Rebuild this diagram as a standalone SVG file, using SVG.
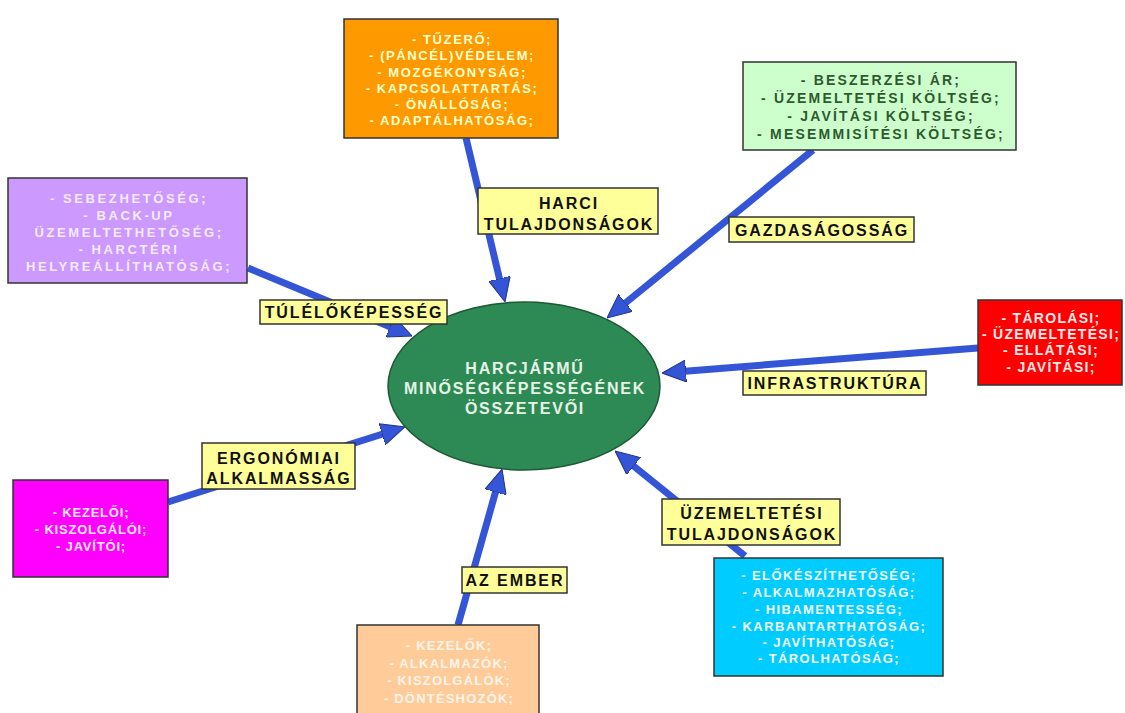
<svg xmlns="http://www.w3.org/2000/svg" width="1125" height="713" viewBox="0 0 1125 713">
  <style>
    .box { stroke: #333; stroke-width: 1.5; }
    .bt { font-family: "Liberation Sans", Arial, sans-serif; font-weight: bold; font-size: 13px; letter-spacing: 1.5px; text-anchor: middle; }
    .lbl rect { fill: #ffff99; stroke: #333; stroke-width: 1.5; }
    .lbl text { font-family: "Liberation Sans", Arial, sans-serif; font-weight: bold; font-size: 16px; letter-spacing: 1.9px; text-anchor: middle; fill: #111; }
    .edge { stroke: #3456d6; stroke-width: 7; fill: none; }
    .ct { font-family: "Liberation Sans", Arial, sans-serif; font-weight: bold; font-size: 16px; letter-spacing: 1.8px; text-anchor: middle; fill: #e6f2e6; }
  </style>
  <defs>
    <marker id="ah" viewBox="0 0 24 22" refX="4" refY="11" markerWidth="24" markerHeight="22" markerUnits="userSpaceOnUse" orient="auto">
      <path d="M0,0 L24,11 L0,22 Z" fill="#3456d6" stroke="#22338a" stroke-width="1"/>
    </marker>
  </defs>
  <rect width="1125" height="713" fill="#ffffff"/>

  <g id="connectors">
    <line class="edge" x1="466" y1="138" x2="500.4" y2="282.5" marker-end="url(#ah)"/>
    <line class="edge" x1="813" y1="150" x2="622.5" y2="305.4" marker-end="url(#ah)"/>
    <line class="edge" x1="248" y1="268" x2="393.6" y2="328.3" marker-end="url(#ah)"/>
    <line class="edge" x1="978" y1="348" x2="681.9" y2="371.4" marker-end="url(#ah)"/>
    <line class="edge" x1="745" y1="556" x2="630.6" y2="463.6" marker-end="url(#ah)"/>
    <line class="edge" x1="168" y1="502" x2="385.9" y2="433" marker-end="url(#ah)"/>
    <line class="edge" x1="458" y1="625" x2="496.6" y2="488.3" marker-end="url(#ah)"/>
  </g>

  <g id="center">
    <ellipse cx="524" cy="386" rx="136" ry="84" fill="#2d8a55" stroke="#1d5a36" stroke-width="1.5"/>
    <text class="ct" x="525" y="374">HARCJÁRMŰ</text>
    <text class="ct" x="525" y="394">MINŐSÉGKÉPESSÉGÉNEK</text>
    <text class="ct" x="525" y="414">ÖSSZETEVŐI</text>
  </g>

  <g id="box-harci">
    <rect class="box" x="344" y="19" width="214" height="119" fill="#ff9900"/>
    <g class="bt" fill="#ffffcc" style="letter-spacing:1.6px">
      <text x="452" y="44">- TŰZERŐ;</text>
      <text x="452" y="60">- (PÁNCÉL)VÉDELEM;</text>
      <text x="452" y="77">- MOZGÉKONYSÁG;</text>
      <text x="452" y="93">- KAPCSOLATTARTÁS;</text>
      <text x="452" y="109">- ÖNÁLLÓSÁG;</text>
      <text x="452" y="125">- ADAPTÁLHATÓSÁG;</text>
    </g>
  </g>

  <g id="box-gazd">
    <rect class="box" x="743" y="62" width="273" height="88" fill="#ccffcc"/>
    <g class="bt" fill="#2f5a2f" style="font-size:14px;letter-spacing:2.2px">
      <text x="881" y="85">- BESZERZÉSI ÁR;</text>
      <text x="881" y="103">- ÜZEMELTETÉSI KÖLTSÉG;</text>
      <text x="881" y="121">- JAVÍTÁSI KÖLTSÉG;</text>
      <text x="881" y="139">- MESEMMISÍTÉSI KÖLTSÉG;</text>
    </g>
  </g>

  <g id="box-tulel">
    <rect class="box" x="8" y="178" width="239" height="105" fill="#cc99ff"/>
    <g class="bt" fill="#f4eaff" style="letter-spacing:2.6px">
      <text x="129" y="203">- SEBEZHETŐSÉG;</text>
      <text x="129" y="220">- BACK-UP</text>
      <text x="129" y="237">ÜZEMELTETHETŐSÉG;</text>
      <text x="129" y="254">- HARCTÉRI</text>
      <text x="129" y="271">HELYREÁLLÍTHATÓSÁG;</text>
    </g>
  </g>

  <g id="box-infra">
    <rect class="box" x="978" y="300" width="144" height="85" fill="#ff0000"/>
    <g class="bt" fill="#ffe8e8" style="font-size:14px;letter-spacing:1.3px">
      <text x="1051" y="323">- TÁROLÁSI;</text>
      <text x="1051" y="339">- ÜZEMELTETÉSI;</text>
      <text x="1051" y="355">- ELLÁTÁSI;</text>
      <text x="1051" y="372">- JAVÍTÁSI;</text>
    </g>
  </g>

  <g id="box-ergo">
    <rect class="box" x="13" y="480" width="155" height="97" fill="#ff00ff"/>
    <g class="bt" fill="#ffe8ff" style="letter-spacing:0.8px">
      <text x="91" y="517">- KEZELŐI;</text>
      <text x="91" y="534">- KISZOLGÁLÓI;</text>
      <text x="91" y="551">- JAVÍTÓI;</text>
    </g>
  </g>

  <g id="box-ember">
    <rect class="box" x="357" y="625" width="182" height="95" fill="#ffcc99"/>
    <g class="bt" fill="#fff4ea" style="letter-spacing:1.2px">
      <text x="449" y="650">- KEZELŐK;</text>
      <text x="449" y="668">- ALKALMAZÓK;</text>
      <text x="449" y="685">- KISZOLGÁLÓK;</text>
      <text x="449" y="703">- DÖNTÉSHOZÓK;</text>
    </g>
  </g>

  <g id="box-uzem">
    <rect class="box" x="714" y="558" width="229" height="118" fill="#00ccff"/>
    <g class="bt" fill="#f0fbff" style="letter-spacing:1.4px">
      <text x="829" y="580">- ELŐKÉSZÍTHETŐSÉG;</text>
      <text x="829" y="597">- ALKALMAZHATÓSÁG;</text>
      <text x="829" y="614">- HIBAMENTESSÉG;</text>
      <text x="829" y="631">- KARBANTARTHATÓSÁG;</text>
      <text x="829" y="647">- JAVÍTHATÓSÁG;</text>
      <text x="829" y="663">- TÁROLHATÓSÁG;</text>
    </g>
  </g>

  <g id="label-harci" class="lbl">
    <rect x="478" y="188" width="180" height="46"/>
    <text x="569" y="209">HARCI</text>
    <text x="569" y="230">TULAJDONSÁGOK</text>
  </g>
  <g id="label-gazd" class="lbl">
    <rect x="729" y="217" width="185" height="25"/>
    <text x="822" y="236">GAZDASÁGOSSÁG</text>
  </g>
  <g id="label-tulel" class="lbl">
    <rect x="260" y="300" width="187" height="24"/>
    <text x="354" y="318">TÚLÉLŐKÉPESSÉG</text>
  </g>
  <g id="label-infra" class="lbl">
    <rect x="743" y="371" width="183" height="24"/>
    <text x="835" y="389">INFRASTRUKTÚRA</text>
  </g>
  <g id="label-uzem" class="lbl">
    <rect x="662" y="499" width="178" height="46"/>
    <text x="752" y="519">ÜZEMELTETÉSI</text>
    <text x="752" y="540">TULAJDONSÁGOK</text>
  </g>
  <g id="label-ergo" class="lbl">
    <rect x="202" y="443" width="153" height="46"/>
    <text x="279" y="464">ERGONÓMIAI</text>
    <text x="279" y="484">ALKALMASSÁG</text>
  </g>
  <g id="label-ember" class="lbl">
    <rect x="462" y="567" width="105" height="26"/>
    <text x="515" y="586">AZ EMBER</text>
  </g>
</svg>
